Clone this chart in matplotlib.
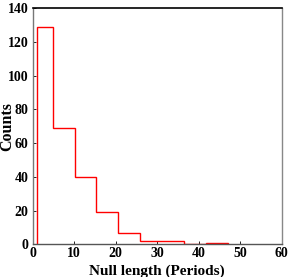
import matplotlib
matplotlib.use("Agg")
import matplotlib.pyplot as plt

# histogram of null lengths
bin_edges = [1.0, 5.0, 10.1, 15.3, 20.5, 25.8, 31.1, 36.4, 41.7, 47.0]
counts = [129, 69, 40, 19, 7, 2, 2, 0, 1]

x_ticks = [0, 10, 20, 30, 40, 50, 60]
y_ticks = [0, 20, 40, 60, 80, 100, 120, 140]

plt.rcParams["font.family"] = "Liberation Serif"
plt.rcParams["font.weight"] = "bold"

fig = plt.figure(figsize=(2.91, 2.77), dpi=100)
ax = fig.add_axes([0.112, 0.118, 0.856, 0.852])

centers = [(a + b) / 2 for a, b in zip(bin_edges[:-1], bin_edges[1:])]
ax.hist(centers, bins=bin_edges, weights=counts, histtype="step",
        color="#ff0000", linewidth=1.0)

ax.set_xlim(0, 60)
ax.set_ylim(0, 140)
ax.set_xticks(x_ticks)
ax.set_yticks(y_ticks)
ax.tick_params(direction="in", length=2, width=0.6, labelsize=10)
ax.tick_params(axis="y", pad=3)
ax.tick_params(axis="x", pad=2)
for lbl in ax.get_xticklabels() + ax.get_yticklabels():
    lbl.set_fontweight("bold")

ax.spines["top"].set_color("black")
ax.spines["top"].set_linewidth(1.2)
ax.spines["right"].set_color("#888888")
ax.spines["left"].set_color("#777777")
ax.spines["bottom"].set_color("#555555")
for side in ("right", "left", "bottom"):
    ax.spines[side].set_linewidth(1.0)

ax.set_xlabel("Null length (Periods)", fontsize=11, fontweight="bold")
ax.xaxis.set_label_coords(0.5, -0.085)
ax.xaxis.label.set_va("top")
ax.set_ylabel("Counts", fontsize=11.5, fontweight="bold")
ax.yaxis.set_label_coords(-0.1, 0.5)
ax.yaxis.label.set_va("center")

fig.savefig("out.png", dpi=100)
